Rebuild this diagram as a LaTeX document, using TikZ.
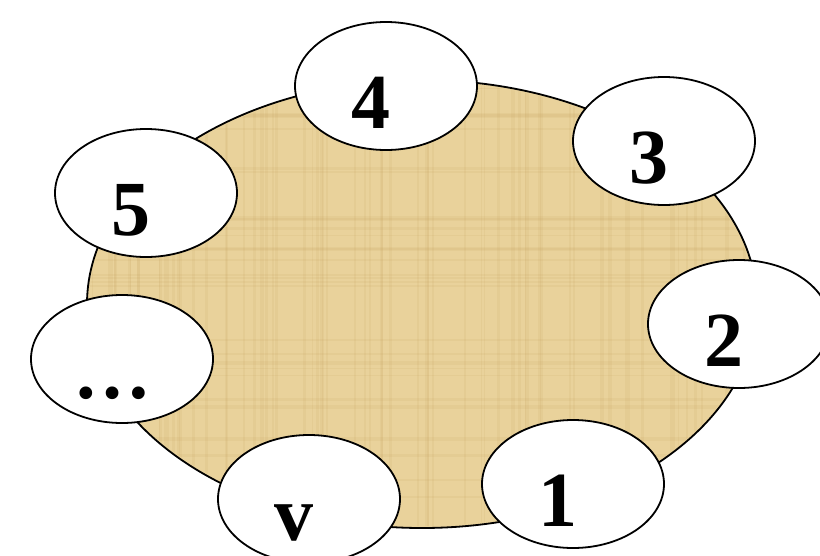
\documentclass[tikz,border=0pt]{standalone}
\usepackage{fontspec}
\setmainfont{Liberation Serif}
\usetikzlibrary{shapes.geometric}

\definecolor{papyrus}{RGB}{233,210,155}
\definecolor{fibre}{RGB}{196,162,92}

\begin{document}
\begin{tikzpicture}[
  x=1pt,y=-1pt,
  table/.style={ellipse,draw,line width=1.8pt,fill=papyrus,
    minimum width=670pt,minimum height=448pt},
  seat/.style={ellipse,draw,line width=1.8pt,fill=white,
    minimum width=182pt,minimum height=128pt},
  tag/.style={anchor=base,inner sep=0pt,font=\fontsize{78}{80}\selectfont\bfseries},
  streak/.style={draw=fibre,opacity=.12}
]
  \useasboundingbox (0,0) rectangle (820,555);

  \node[table] (board) at (422,304) {};

  % papyrus fibres
  \begin{scope}
    \clip (422,304) ellipse [x radius=333,y radius=222];
    \pgfmathsetseed{7}
    \foreach \i in {1,...,70}{
      \pgfmathsetmacro\xx{90+rnd*665}
      \pgfmathsetmacro\ww{.8+rnd*3}
      \draw[streak,line width=\ww pt] (\xx,80) -- (\xx,530);
    }
    \foreach \i in {1,...,30}{
      \pgfmathsetmacro\yy{80+rnd*450}
      \pgfmathsetmacro\ww{.8+rnd*3}
      \draw[streak,line width=\ww pt] (88,\yy) -- (757,\yy);
    }
  \end{scope}

  \node[seat] (s4) at (386,86) {};
  \node[seat] (s3) at (664,141) {};
  \node[seat] (s5) at (146,193) {};
  \node[seat] (s2) at (739,324) {};
  \node[seat] (sdots) at (122,359) {};
  \node[seat] (sv) at (309,499) {};
  \node[seat] (s1) at (573,484) {};

  \node[tag] (t4) at ([shift={(-15,42)}]s4.center) {4};
  \node[tag] (t3) at ([shift={(-15,42)}]s3.center) {3};
  \node[tag] (t5) at ([shift={(-15,42)}]s5.center) {5};
  \node[tag] (t2) at ([shift={(-15,42)}]s2.center) {2};
  \node[tag] (tdots) at ([shift={(-10,39)}]sdots.center) {…};
  \node[tag] (tv) at ([shift={(-15,41)}]sv.center) {v};
  \node[tag] (t1) at ([shift={(-15,42)}]s1.center) {1};
\end{tikzpicture}
\end{document}
